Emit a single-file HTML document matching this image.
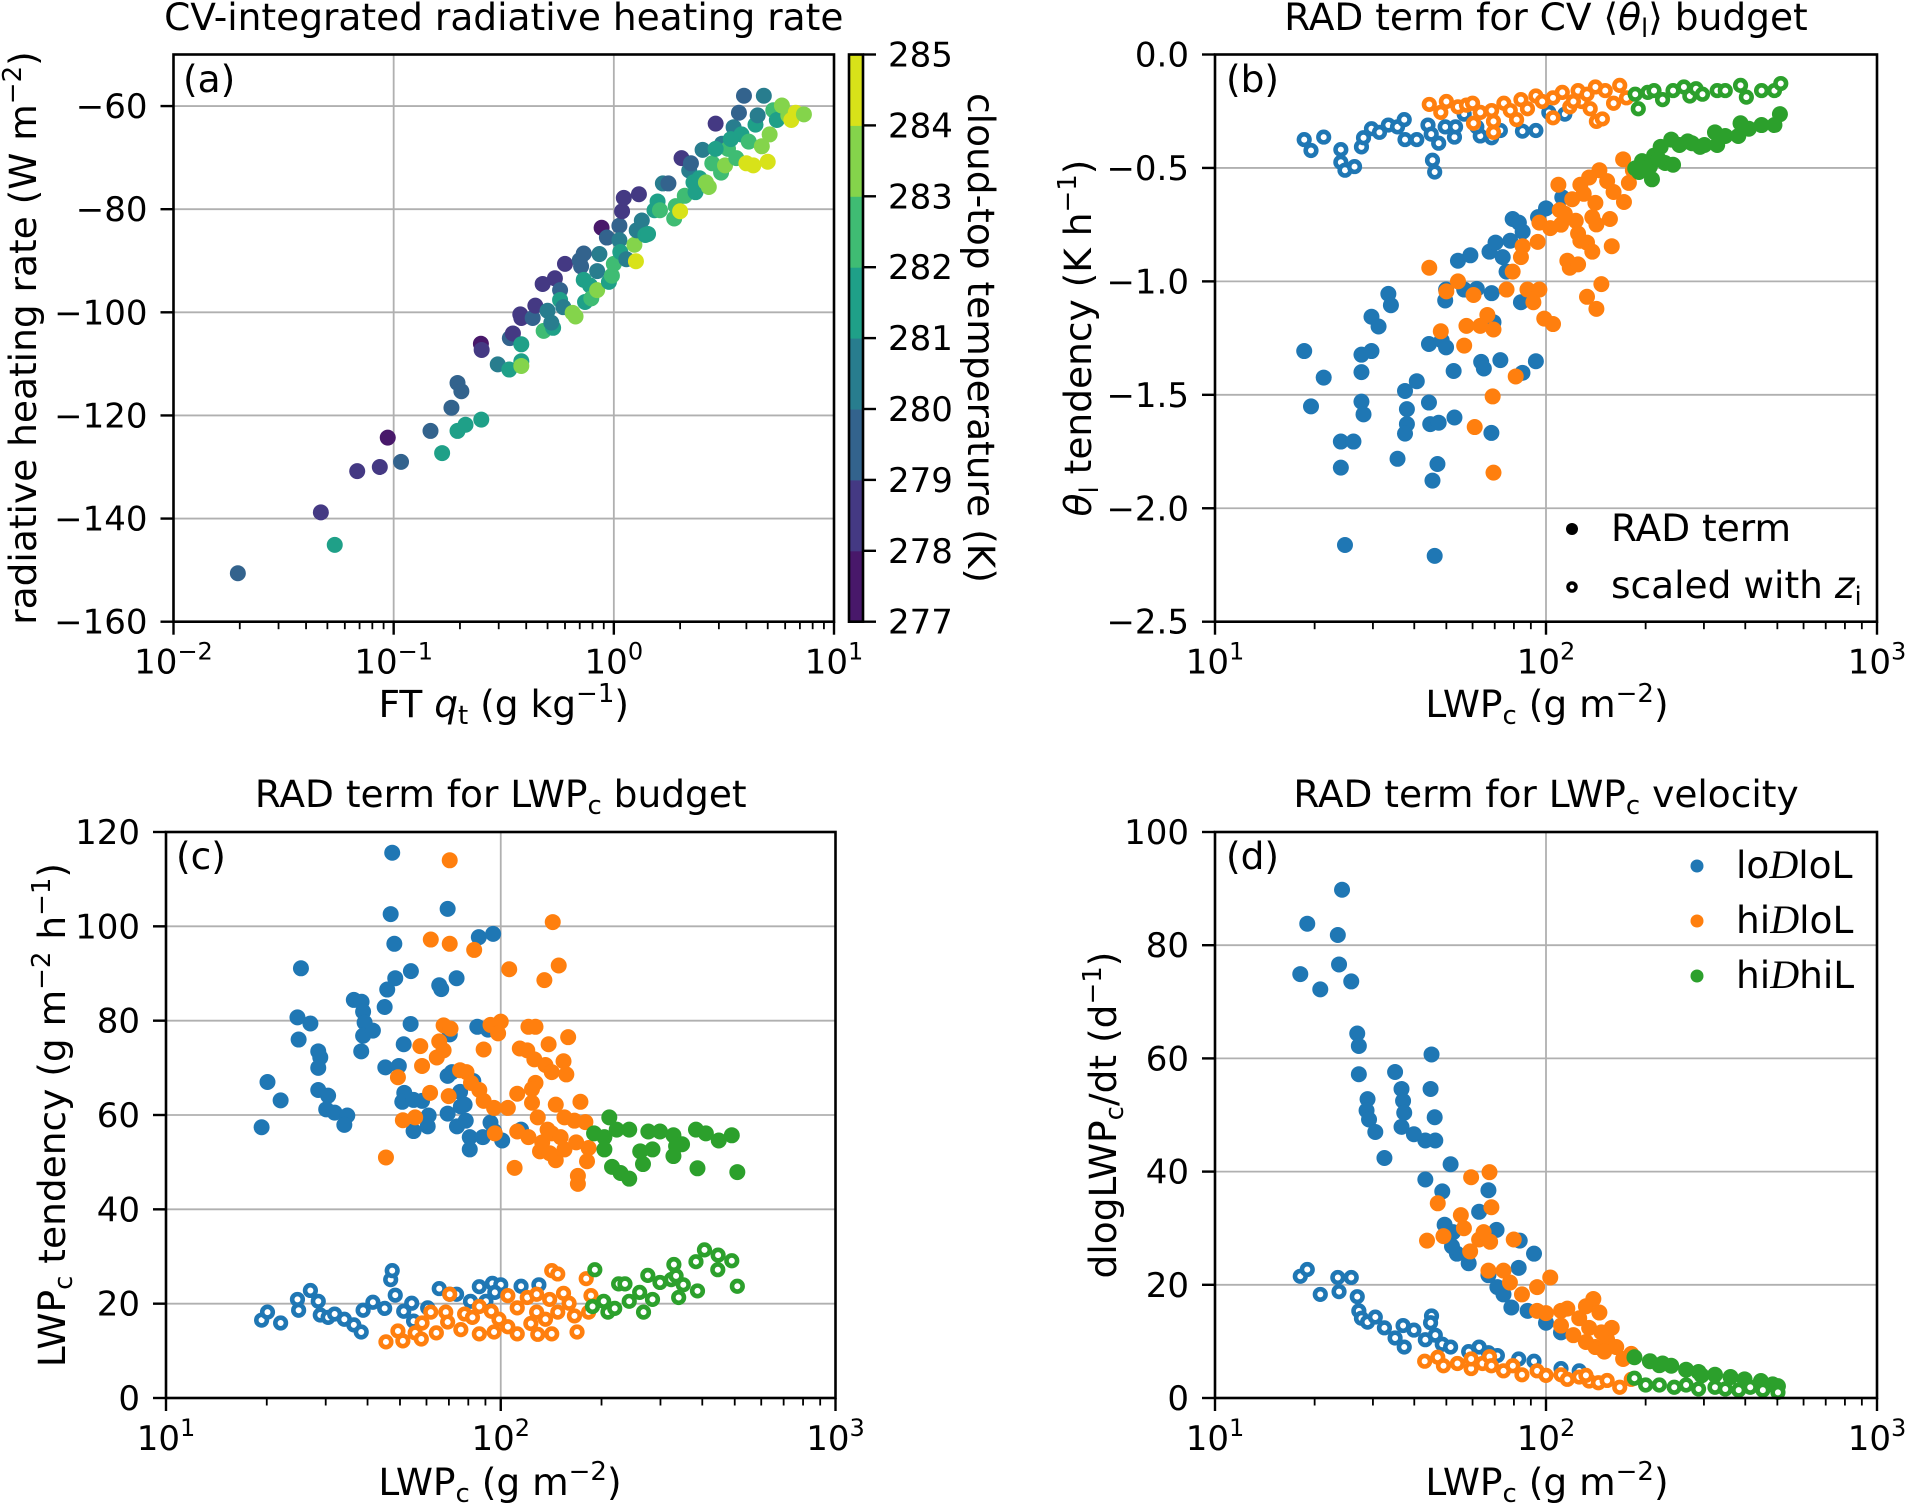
<!DOCTYPE html>
<html><head><meta charset="utf-8">
<style>
html,body{margin:0;padding:0;background:#fff;}
svg{display:block;font-family:"DejaVu Sans","Liberation Sans",sans-serif;}
</style></head>
<body>
<svg id="fig" width="1910" height="1504" viewBox="0 0 1910 1504" xmlns="http://www.w3.org/2000/svg"></svg>
<script>
// ---------- DATA ----------
// Panel (a): [FT qt (g/kg), radiative heating rate (W m-2), cloud-top T (K)]
const aPoints = [[0.0196,-150.6,279.5],[0.0467,-138.8,278.3],[0.054,-145.1,281],[0.0683,-130.8,278.3],[0.0865,-130,278.3],[0.094,-124.3,277.3],[0.108,-129,279.8],[0.147,-123,279.3],[0.166,-127.3,281.5],[0.195,-113.7,279.5],[0.183,-118.5,279.5],[0.203,-115.3,279.3],[0.195,-123,281],[0.212,-121.8,281.8],[0.25,-120.8,281.8],[0.249,-106.1,277.3],[0.251,-107.3,278.3],[0.297,-110.1,280.2],[0.335,-111.1,281.5],[0.337,-105,279.5],[0.348,-104.1,278.5],[0.38,-106.2,281.5],[0.38,-109.5,281.8],[0.38,-110.4,283.5],[0.376,-100.4,278.3],[0.38,-101.1,278.3],[0.428,-101.1,279.5],[0.44,-98.7,278.5],[0.475,-94.5,278.5],[0.48,-103.6,282],[0.53,-103,281.5],[0.5,-99.7,280],[0.52,-102,280.5],[0.54,-93.4,278.5],[0.57,-95.7,279.5],[0.57,-97.6,281.5],[0.6,-90.6,278.5],[0.59,-99,280.3],[0.65,-100.1,283.5],[0.67,-100.8,283.5],[0.70,-89.9,279.3],[0.71,-91.1,279],[0.73,-88.6,279.8],[0.74,-98,281.5],[0.73,-93.7,281],[0.78,-94.8,281.8],[0.79,-97.3,282],[0.84,-95.7,283],[0.86,-88.7,280],[0.84,-92,280.5],[0.88,-83.6,277.3],[0.93,-85.5,279],[0.95,-94.1,281.5],[0.98,-92.9,282],[1.0,-90.6,282.5],[1.06,-83.2,279.8],[1.09,-80.4,278.5],[1.11,-77.8,278.5],[1.06,-86,280.3],[1.07,-88.3,281.5],[1.14,-89.7,280],[1.26,-90.1,284],[1.24,-86.9,283],[1.27,-84.1,280],[1.3,-77.1,278.5],[1.34,-82.2,280.5],[1.39,-85,281],[1.43,-84.8,281.5],[1.53,-80.2,281.8],[1.58,-78.5,281.8],[1.62,-80.2,282],[1.67,-75,280],[1.77,-75,279.5],[1.88,-81.8,282.5],[1.91,-79.4,282.5],[2.0,-80.4,284.5],[2.03,-70.1,278.3],[2.1,-77.4,282.3],[2.2,-72.5,280],[2.24,-71.1,279.8],[2.3,-74.8,281],[2.35,-76.7,281.5],[2.45,-74,281.5],[2.53,-68.5,280],[2.62,-74.8,283],[2.7,-75.7,283.5],[2.8,-71.1,282],[2.9,-63.4,278.3],[3.07,-72.9,282.3],[3.1,-67.3,280.5],[3.2,-71.5,283.5],[3.3,-68.3,282],[3.5,-64.1,280.3],[3.6,-70.1,282],[3.7,-61.3,279.5],[3.8,-65.5,281],[3.9,-58,279.3],[4.0,-71.1,284.5],[4.1,-66.9,282],[4.4,-63.6,281.8],[4.3,-71.5,284.7],[4.5,-61.8,280.3],[4.7,-67.8,283.5],[4.8,-58,280],[5.0,-70.8,284.5],[5.1,-65.5,283.5],[5.3,-60.8,282],[5.5,-62.7,281.5],[5.8,-59.9,283.5],[6.2,-61.8,283.5],[6.4,-62.7,284],[6.7,-61.3,284],[7.3,-61.6,283.8],[2.9,-68.3,281.5],[3.4,-66.4,281.8]];
const aXTicks = [-2,-1,0,1];
const aYTicks = [-160,-140,-120,-100,-80,-60];
const cbTicks = [277,278,279,280,281,282,283,284,285];
const cbColors = ["#48186a","#443983","#33638d","#287d8e","#1fa088","#3fbc73","#84d44b","#d8e219"];

// Panel (b): [LWPc, theta_l tendency]
const bLoRad = [[18.6,-1.307],[21.3,-1.424],[19.5,-1.551],[24.0,-1.706],[26.2,-1.706],[24.0,-1.821],[24.7,-2.162],[27.7,-1.40],[27.7,-1.53],[28.1,-1.586],[27.7,-1.323],[29.7,-1.307],[29.7,-1.156],[31.2,-1.199],[33.4,-1.055],[34.0,-1.105],[35.6,-1.782],[37.5,-1.483],[38.0,-1.563],[38.0,-1.629],[37.5,-1.671],[40.7,-1.44],[44.3,-1.534],[44.3,-1.276],[44.7,-1.629],[47.4,-1.623],[45.4,-1.878],[47.0,-1.805],[46.1,-2.21],[48.4,-1.26],[49.9,-1.291],[52.9,-1.6],[52.6,-1.395],[49.6,-1.084],[49.9,-1.036],[54.2,-0.909],[59.1,-0.885],[56.6,-1.036],[61.8,-1.033],[63.7,-1.355],[64.9,-1.384],[68.4,-1.668],[68.5,-1.052],[67.5,-0.869],[70.4,-0.829],[74.0,-0.893],[72.8,-1.347],[78.0,-0.821],[79.3,-0.725],[82.8,-0.741],[85.0,-0.781],[84.0,-1.092],[84.9,-1.403],[93.2,-1.352],[94.6,-0.717],[100,-0.678],[112,-0.63],[69.4,-1.18],[76,-0.957]];
const bHiLoRad = [[44.4,-0.94],[48.1,-1.22],[50,-1.044],[54.2,-1.0],[56.6,-1.283],[60.4,-1.06],[57.5,-1.196],[63.3,-1.196],[66.5,-1.148],[69.4,-1.212],[60.9,-1.642],[69,-1.507],[69.4,-1.843],[81,-1.419],[76,-1.036],[79.3,-0.957],[84,-0.893],[85,-0.845],[87.9,-1.036],[91.6,-1.092],[95.5,-1.036],[98.8,-1.164],[105,-1.188],[94.4,-0.826],[95.5,-0.741],[103,-0.765],[111,-0.75],[110,-0.686],[114,-0.702],[120,-0.638],[123,-0.733],[125,-0.789],[127,-0.821],[116,-0.909],[118,-0.94],[125,-0.925],[133,-0.829],[138,-0.717],[142,-0.749],[156,-0.725],[158,-0.845],[138,-0.869],[147,-1.012],[133,-1.068],[142,-1.121],[109,-0.574],[127,-0.574],[135,-0.542],[145,-0.51],[153,-0.558],[160,-0.606],[172,-0.65],[171,-0.462],[178,-0.566],[183,-0.51],[130,-0.614],[141,-0.654]];
const bHiHiRad = [[186,-0.502],[195,-0.47],[209,-0.55],[212,-0.446],[222,-0.407],[229,-0.478],[242,-0.486],[239,-0.375],[253,-0.399],[268,-0.383],[276,-0.391],[292,-0.407],[301,-0.399],[324,-0.343],[329,-0.399],[348,-0.359],[381,-0.359],[387,-0.303],[410,-0.327],[448,-0.311],[490,-0.311],[509,-0.263],[206,-0.494],[219,-0.462],[191,-0.518]];
const bLoScaled = [[18.6,-0.375],[19.5,-0.423],[21.3,-0.364],[24,-0.419],[24,-0.475],[24.7,-0.51],[26.4,-0.494],[27.7,-0.407],[28.1,-0.367],[29.7,-0.327],[31.4,-0.343],[33.4,-0.311],[35.6,-0.319],[37.3,-0.287],[37.5,-0.375],[40.7,-0.375],[44.0,-0.311],[45,-0.351],[47.4,-0.391],[45.4,-0.466],[46.1,-0.518],[49.6,-0.319],[52.9,-0.364],[53.3,-0.319],[56.6,-0.263],[63.3,-0.359],[68.5,-0.367],[72.8,-0.335],[84.9,-0.338],[93.2,-0.335],[102,-0.255],[114,-0.263],[61.8,-0.319]];
const bHiLoScaled = [[44.4,-0.22],[48.1,-0.255],[50,-0.207],[54.2,-0.231],[57.5,-0.223],[60,-0.215],[60.4,-0.303],[63.3,-0.255],[68.5,-0.247],[69.4,-0.343],[69.4,-0.295],[74.6,-0.215],[78,-0.247],[81.5,-0.287],[84,-0.199],[87.9,-0.239],[93.2,-0.183],[97.4,-0.207],[105,-0.279],[105,-0.191],[112,-0.167],[118,-0.231],[125,-0.159],[128,-0.207],[136,-0.239],[141,-0.143],[142,-0.295],[148,-0.284],[151,-0.159],[160,-0.215],[167,-0.136],[175,-0.191],[133,-0.175],[121,-0.207]];
const bHiHiScaled = [[186,-0.175],[190,-0.239],[203,-0.167],[212,-0.159],[225,-0.199],[242,-0.159],[261,-0.143],[272,-0.183],[284,-0.151],[297,-0.175],[329,-0.159],[348,-0.159],[387,-0.136],[403,-0.188],[448,-0.159],[490,-0.159],[512,-0.128]];
const bYTicks = [-2.5,-2.0,-1.5,-1.0,-0.5,0.0];

// Panel (c): [LWPc, LWPc tendency]
const cLoRad = [[19.3,57.4],[20.1,67],[22.0,63.1],[25.3,91.1],[24.7,80.7],[27.0,79.4],[24.9,76],[28.5,73.5],[28.9,72.2],[28.5,70],[28.5,65.3],[30.5,64.1],[30.1,61.2],[31.9,60.5],[34.8,59.9],[34.1,57.9],[36.4,84.4],[38.4,84],[38.8,81.9],[39.2,79.6],[38.8,76.8],[41.5,77.9],[38.3,73.5],[45,82.9],[45.8,86.6],[48.4,89],[46.9,102.6],[47.4,115.6],[48.1,96.3],[53.9,90.5],[53.8,79.3],[51.3,75],[45.2,70.1],[49.6,70.4],[51.5,64.7],[50.8,62.8],[54.9,63.2],[58.2,63],[60.9,59.9],[60.5,57.6],[54.9,56.6],[65.5,87.5],[66.4,86.7],[69.4,103.7],[73.8,89],[70.4,77.1],[69.4,68.3],[71.5,69.1],[69.4,60.3],[75.6,64.9],[76.0,61.8],[78.6,58.8],[74,57.6],[80.8,55.3],[80.8,52.7],[82.8,67.2],[85.1,78.7],[86,97.7],[94.9,98.4],[91.6,78.1],[88.4,55.3],[93.2,58.4],[95.5,56.6],[101,54.6],[115,56.9],[78,62.2]];
const cHiLoRad = [[70.4,114],[143,100.9],[61.8,97.2],[70.4,96.3],[83.3,95],[106,90.9],[135,88.6],[149,91.7],[67.5,79],[70.8,78.3],[93.2,79.1],[100,79.8],[98.2,77.3],[121,78.7],[127,78.7],[159,76.5],[57.5,74.6],[65.5,75.6],[67.5,73.7],[64.4,72.2],[58.2,70.4],[88.9,73.9],[114,74.1],[120,73.7],[139,75],[126,71.8],[136,70.6],[142,69.1],[154,71.4],[157,68.6],[49.3,68],[75.6,69.5],[79,69.1],[81.5,66.8],[86.3,65.3],[88.9,63],[127,66.8],[124,65.5],[112,64.5],[61.5,64.7],[69.9,64],[95.5,61.5],[105,61.5],[124,62.6],[146,62.2],[173,62.8],[51,58.9],[55.5,59.5],[96,56.1],[112,56.5],[129,59.5],[138,56.9],[155,59.5],[166,58.8],[179,58.5],[121,55.3],[133,54.2],[142,56.1],[151,55.3],[168,54.2],[131,52.3],[146,50.4],[155,52.7],[183,53],[181,50.2],[170,47.1],[170,45.4],[110,48.8],[45.4,51],[140,51.9]];
const cHiHiRad = [[190,56.1],[211,59.5],[222,56.9],[242,56.9],[204,55.3],[204,52.7],[215,49],[228,47.7],[242,46.5],[261,52.3],[266,49.6],[276,56.5],[299,56.5],[284,52.7],[328,55.7],[334,53.4],[348,53.8],[328,51.3],[383,56.9],[410,56.1],[448,54.6],[490,55.7],[387,48.7],[509,47.9]];
const cLoScaled = [[19.3,16.5],[20.1,18.2],[22,15.9],[24.7,20.9],[24.9,18.6],[27,22.8],[28.5,20.5],[28.9,17.6],[30.5,17.1],[31.9,17.8],[34.1,16.7],[36.4,15.5],[38.3,14],[38.8,18.6],[41.5,20.3],[45,19],[46.9,25.1],[47.4,27],[48.4,21.8],[51.3,18.4],[54.2,20.1],[54.9,16.3],[60.5,19.1],[65.5,23.2],[70.4,22],[73.8,22],[81.2,20.5],[86.3,23.6],[94.4,24.3],[100,24],[96,22.4],[115,23.7],[130,24],[90.3,20.5]];
const cHiLoScaled = [[45.4,11.9],[49.3,14.2],[51,12.1],[55.5,13.8],[58.2,15.9],[57.9,12.5],[61.8,18.2],[64.2,13.8],[68.5,18.2],[70.4,22],[69.4,16.1],[76,14.5],[78,17.8],[82.3,17.1],[86.3,19.4],[86.3,13.6],[93.7,18.4],[95.5,14],[105,21.7],[105,15.1],[112,19.1],[112,13.6],[120,21.3],[123,15.8],[128,22],[128,18.2],[129,13.5],[140,20.9],[142,13.6],[142,27],[148,26.3],[148,18.2],[154,22.2],[160,20.1],[166,17.4],[169,14],[180,25.3],[186,21.7],[183,18.2],[136,16.7],[98.8,16.7]];
const cHiHiScaled = [[191,27.2],[188,19.4],[203,20.5],[209,18.2],[219,19],[225,24.2],[235,24.2],[242,20.5],[260,22.4],[267,18.2],[275,26],[284,20.9],[299,24.5],[323,25.1],[329,28.3],[334,25.9],[340,21.3],[351,24],[383,28.9],[387,22.7],[406,31.4],[446,30.3],[445,27.2],[490,29.1],[509,23.7]];
const cYTicks = [0,20,40,60,80,100,120];

// Panel (d): [LWPc, dlogLWPc/dt]
const dLoRad = [[18.1,74.9],[19,83.8],[20.8,72.2],[23.5,81.8],[23.7,76.6],[24.2,89.8],[25.8,73.6],[26.9,64.4],[27.2,62.2],[27.2,57.2],[28.9,52.8],[28.7,50.8],[29.2,49.2],[30.5,47],[32.5,42.4],[35,57.6],[36.6,54.6],[37,52.5],[37.3,50.4],[36.6,47.9],[39.9,46.6],[43.2,45.5],[43.2,38.6],[45.1,60.7],[44.8,54.6],[46.1,49.6],[46.3,45.5],[48.6,36.5],[51.5,41.3],[49.4,30.6],[52.4,29.3],[53.8,25.5],[58.4,23.8],[62.8,32.9],[67,36.7],[70.9,29.7],[67,21.7],[71.3,19.6],[74.4,18.3],[78.6,16],[82.7,23],[83.3,27.8],[92,25.5],[88,15.4],[100,13.3],[111,11.6],[52,26.8]];
const dHiLoRad = [[43.7,27.8],[47.1,34.4],[49,28.6],[55.3,32.3],[56.5,30],[59.4,39],[59,25.9],[62.8,28],[64.8,29.3],[67.5,39.9],[68.4,33.7],[67.8,27.6],[67,22.5],[74.4,22.5],[79.9,28],[77.8,20.4],[84.6,18.3],[94,19.6],[103,21.3],[94,15.4],[100,15],[111,15.4],[111,12.8],[116,15.8],[121,11.1],[126,14.1],[132,16.2],[135,12.4],[139,17.5],[145,15.1],[147,11.6],[153,10.3],[158,12.4],[163,9],[171,6.9],[181,7.8],[141,9],[132,9.9],[150,8.2]];
const dHiHiRad = [[185,7.2],[206,6.5],[225,6.1],[239,5.7],[265,5],[289,4.6],[324,4.1],[361,3.7],[398,3.3],[446,3],[484,2.4],[502,2.1],[220,5.8],[295,4]];
const dLoScaled = [[18.1,21.5],[19,22.7],[20.8,18.3],[23.5,21.3],[23.7,18.8],[25.8,21.3],[26.9,17.9],[27.2,15.4],[27.7,14.1],[28.9,13.4],[30.5,14.3],[32.5,12.4],[35,10.6],[37,12.8],[37.3,9],[39.9,12],[43.2,10.3],[45.1,14.5],[44.8,13.3],[46.3,11.1],[48.6,9.5],[51.5,9],[58.4,8.2],[62.8,9],[67,8],[71.3,7.5],[82.7,6.9],[92,6.5],[111,5.2],[126,4.8]];
const dHiLoScaled = [[43,6.5],[47.1,7.2],[49,5.7],[54,6.1],[59.4,5.2],[59.4,6.9],[64.3,6.1],[67.5,7.3],[68.4,5.7],[74.4,4.8],[79.4,5.7],[84.6,4.1],[94,4.8],[100,4],[111,4.1],[116,3.3],[126,3.7],[135,3],[144,2.7],[153,3.1],[167,1.9],[181,3.3],[132,4]];
const dHiHiScaled = [[185,3.5],[200,2.3],[220,2.3],[244,1.9],[265,2.3],[289,1.6],[324,1.9],[348,1.6],[382,1.4],[414,1.9],[452,1.4],[502,1]];
const dYTicks = [0,20,40,60,80,100];
const lwpXTicks = [1,2,3];

const C_BLUE="#1f77b4", C_ORANGE="#ff7f0e", C_GREEN="#2ca02c";
const NS="http://www.w3.org/2000/svg";
const svg=document.getElementById('fig');
const LBL=37.5, SUB=26;

function mk(tag, attrs, parent){
  const e=document.createElementNS(NS,tag);
  for(const k in attrs) e.setAttribute(k,attrs[k]);
  (parent||svg).appendChild(e);
  return e;
}
function group(name){
  const g=mk('g',{});
  
  
  return g;
}
function logScale(d0,d1,p0,p1){return v=>p0+(Math.log10(v)-d0)/(d1-d0)*(p1-p0);}
function linScale(d0,d1,p0,p1){return v=>p0+(v-d0)/(d1-d0)*(p1-p0);}
function fmtNum(v){ return (v<0?'\u2212':'')+Math.abs(v); }

function drawAxes(P){
  const g=group(P.name+'-axes');
  const gg=group(P.name+'-grid'); g.appendChild(gg);
  P.xTicks.forEach(e=>{
    const x=P.sx(Math.pow(10,e));
    const l=mk('line',{x1:x,x2:x,y1:P.top,y2:P.bottom,stroke:'#b0b0b0','stroke-width':1.8},gg);
    
    
  });
  P.yTicks.forEach(v=>{
    const y=P.sy(v);
    const l=mk('line',{x1:P.left,x2:P.right,y1:y,y2:y,stroke:'#b0b0b0','stroke-width':1.8},gg);
    
    
  });
  return g;
}
function drawFrame(P){
  const g=group(P.name+'-frame');
  const r=mk('rect',{x:P.left,y:P.top,width:P.right-P.left,height:P.bottom-P.top,fill:'none',stroke:'#000','stroke-width':2.6},g);
  
  
  for(let e=P.xTicks[0]; e<=P.xTicks[P.xTicks.length-1]; e++){
    const x=P.sx(Math.pow(10,e));
    mk('line',{x1:x,x2:x,y1:P.bottom,y2:P.bottom+13,stroke:'#000','stroke-width':2.4},g);
    const t=mk('text',{x:x,y:P.bottom+52,'text-anchor':'middle','font-size':34},g);
    
    
    t.appendChild(document.createTextNode('10'));
    const s=mk('tspan',{dy:-14,'font-size':24},t);
    s.textContent=(e<0?'\u2212':'')+Math.abs(e);
    if(e<P.xTicks[P.xTicks.length-1]){
      for(let m=2;m<=9;m++){
        const xm=P.sx(m*Math.pow(10,e));
        mk('line',{x1:xm,x2:xm,y1:P.bottom,y2:P.bottom+7.5,stroke:'#000','stroke-width':1.8},g);
      }
    }
  }
  P.yTicks.forEach(v=>{
    const y=P.sy(v);
    mk('line',{x1:P.left-13,x2:P.left,y1:y,y2:y,stroke:'#000','stroke-width':2.4},g);
    const t=mk('text',{x:P.left-26,y:y+12,'text-anchor':'end','font-size':34},g);
    
    
    t.textContent=P.yFmt?P.yFmt(v):fmtNum(v);
  });
}
function scatter(P,data,color,open,name){
  const g=group(name);
  data.forEach(d=>{
    const c= open
      ? mk('circle',{cx:P.sx(d[0]),cy:P.sy(d[1]),r:5.3,fill:'#fff',stroke:color,'stroke-width':4.6},g)
      : mk('circle',{cx:P.sx(d[0]),cy:P.sy(d[1]),r:8,fill:color},g);
    
    
  });
}
function label(txt,x,y,opts,name){
  const t=mk('text',Object.assign({x:x,y:y,'font-size':LBL,'text-anchor':'middle'},opts||{}));
  
  
  t.innerHTML=txt;
  return t;
}
const sub=s=>'<tspan font-size="'+SUB+'" dy="7">'+s+'</tspan><tspan dy="-7">';
const sup=s=>'<tspan font-size="'+SUB+'" dy="-15">'+s+'</tspan><tspan dy="15">';

// ---------- PANEL A ----------
const PA={name:'panel-a',left:173.5,right:834,top:54.5,bottom:621.7,xTicks:aXTicks,yTicks:aYTicks};
PA.sx=logScale(-2,1,PA.left,PA.right); PA.sy=linScale(-50,-160,PA.top,PA.bottom);
drawAxes(PA);
(function(){
  const g=group('panel-a-scatter');
  aPoints.forEach(p=>{
    const band=Math.max(0,Math.min(7,Math.floor(p[2]-277)));
    const c=mk('circle',{cx:PA.sx(p[0]),cy:PA.sy(p[1]),r:8,fill:cbColors[band]},g);
    
    
  });
})();
drawFrame(PA);
label('CV-integrated radiative heating rate',(PA.left+PA.right)/2,30,{},'panel-a-title');
label('(a)',183,92,{'text-anchor':'start'},'panel-a-tag');
label('FT <tspan font-style="italic">q</tspan>'+sub('t')+' (g kg</tspan>'+sup('\u22121')+')</tspan>',(PA.left+PA.right)/2,717,{},'panel-a-x-axis-title');
label('radiative heating rate (W m'+sup('\u22122')+')</tspan>',0,0,{transform:'translate(36,338) rotate(-90)'},'panel-a-y-axis-title');
(function(){
  const g=group('colorbar');
  const cx0=849, cx1=863, top=54.5, bot=621.7;
  const cs=linScale(277,285,bot,top);
  cbColors.forEach((col,i)=>{
    const r=mk('rect',{x:cx0,y:cs(278+i),width:cx1-cx0,height:cs(277+i)-cs(278+i)+0.5,fill:col},g);
    
    
  });
  mk('rect',{x:cx0,y:top,width:cx1-cx0,height:bot-top,fill:'none',stroke:'#000','stroke-width':2.6},g);
  cbTicks.forEach(v=>{
    const y=cs(v);
    mk('line',{x1:cx1,x2:cx1+13,y1:y,y2:y,stroke:'#000','stroke-width':2.4},g);
    const t=mk('text',{x:888,y:y+12,'font-size':34},g);
    
    
    t.textContent=v;
  });
  label('cloud-top temperature (K)',0,0,{transform:'translate(968,338) rotate(90)'},'colorbar-title');
})();

// ---------- PANEL B ----------
const PB={name:'panel-b',left:1215,right:1877,top:54.5,bottom:621.7,xTicks:lwpXTicks,yTicks:bYTicks};
PB.yFmt=v=>(v<0?'\u2212':'')+Math.abs(v).toFixed(1);
PB.sx=logScale(1,3,PB.left,PB.right); PB.sy=linScale(0,-2.5,PB.top,PB.bottom);
drawAxes(PB);
scatter(PB,bLoRad,C_BLUE,false,'b-loDloL-rad');
scatter(PB,bLoScaled,C_BLUE,true,'b-loDloL-scaled');
scatter(PB,bHiLoRad,C_ORANGE,false,'b-hiDloL-rad');
scatter(PB,bHiLoScaled,C_ORANGE,true,'b-hiDloL-scaled');
scatter(PB,bHiHiRad,C_GREEN,false,'b-hiDhiL-rad');
scatter(PB,bHiHiScaled,C_GREEN,true,'b-hiDhiL-scaled');
drawFrame(PB);
label('RAD term for CV \u27E8<tspan font-style="italic">\u03B8</tspan>'+sub('l')+'\u27E9 budget</tspan>',(PB.left+PB.right)/2,30,{},'panel-b-title');
label('(b)',1226,92,{'text-anchor':'start'},'panel-b-tag');
label('LWP'+sub('c')+' (g m</tspan>'+sup('\u22122')+')</tspan>',1547,717,{},'panel-b-x-axis-title');
label('<tspan font-style="italic">\u03B8</tspan>'+sub('l')+' tendency (K h</tspan>'+sup('\u22121')+')</tspan>',0,0,{transform:'translate(1091,338) rotate(-90)'},'panel-b-y-axis-title');
(function(){
  const g=group('panel-b-legend');
  const m1=mk('circle',{cx:1572,cy:529,r:6,fill:'#000'},g);
   
  const m2=mk('circle',{cx:1572,cy:587,r:4,fill:'#fff',stroke:'#000','stroke-width':3.5},g);
   
  label('RAD term',1611,541,{'text-anchor':'start'},'legend-rad-term');
  label('scaled with <tspan font-style="italic">z</tspan>'+sub('i')+'</tspan>',1611,598,{'text-anchor':'start'},'legend-scaled');
})();

// ---------- PANEL C ----------
const PC={name:'panel-c',left:166,right:835.5,top:832,bottom:1398,xTicks:lwpXTicks,yTicks:cYTicks};
PC.sx=logScale(1,3,PC.left,PC.right); PC.sy=linScale(120,0,PC.top,PC.bottom);
drawAxes(PC);
scatter(PC,cLoRad,C_BLUE,false,'c-loDloL-rad');
scatter(PC,cLoScaled,C_BLUE,true,'c-loDloL-scaled');
scatter(PC,cHiLoRad,C_ORANGE,false,'c-hiDloL-rad');
scatter(PC,cHiLoScaled,C_ORANGE,true,'c-hiDloL-scaled');
scatter(PC,cHiHiRad,C_GREEN,false,'c-hiDhiL-rad');
scatter(PC,cHiHiScaled,C_GREEN,true,'c-hiDhiL-scaled');
drawFrame(PC);
label('RAD term for LWP'+sub('c')+' budget</tspan>',(PC.left+PC.right)/2,807,{},'panel-c-title');
label('(c)',176,869,{'text-anchor':'start'},'panel-c-tag');
label('LWP'+sub('c')+' (g m</tspan>'+sup('\u22122')+')</tspan>',500,1495,{},'panel-c-x-axis-title');
label('LWP'+sub('c')+' tendency (g m</tspan>'+sup('\u22122')+' h</tspan>'+sup('\u22121')+')</tspan>',0,0,{transform:'translate(65,1115) rotate(-90)'},'panel-c-y-axis-title');

// ---------- PANEL D ----------
const PD={name:'panel-d',left:1215,right:1877,top:832,bottom:1398,xTicks:lwpXTicks,yTicks:dYTicks};
PD.sx=logScale(1,3,PD.left,PD.right); PD.sy=linScale(100,0,PD.top,PD.bottom);
drawAxes(PD);
scatter(PD,dLoRad,C_BLUE,false,'d-loDloL-rad');
scatter(PD,dLoScaled,C_BLUE,true,'d-loDloL-scaled');
scatter(PD,dHiLoRad,C_ORANGE,false,'d-hiDloL-rad');
scatter(PD,dHiLoScaled,C_ORANGE,true,'d-hiDloL-scaled');
scatter(PD,dHiHiRad,C_GREEN,false,'d-hiDhiL-rad');
scatter(PD,dHiHiScaled,C_GREEN,true,'d-hiDhiL-scaled');
drawFrame(PD);
label('RAD term for LWP'+sub('c')+' velocity</tspan>',(PD.left+PD.right)/2,807,{},'panel-d-title');
label('(d)',1226,869,{'text-anchor':'start'},'panel-d-tag');
label('LWP'+sub('c')+' (g m</tspan>'+sup('\u22122')+')</tspan>',1547,1495,{},'panel-d-x-axis-title');
label('dlogLWP'+sub('c')+'/dt (d</tspan>'+sup('\u22121')+')</tspan>',0,0,{transform:'translate(1116,1115) rotate(-90)'},'panel-d-y-axis-title');
(function(){
  const g=group('panel-d-legend');
  const rows=[['lo','loL',C_BLUE,866,'legend-loDloL'],['hi','loL',C_ORANGE,921,'legend-hiDloL'],['hi','hiL',C_GREEN,976,'legend-hiDhiL']];
  rows.forEach(r=>{
    const m=mk('circle',{cx:1697,cy:r[3],r:6.5,fill:r[2]},g);
    
    
    label(r[0]+'<tspan font-family="Liberation Serif, serif" font-style="italic" font-size="40">D</tspan>'+r[1],1736,r[3]+12,{'text-anchor':'start'},r[4]+'-label');
  });
})();
</script>
</body></html>
